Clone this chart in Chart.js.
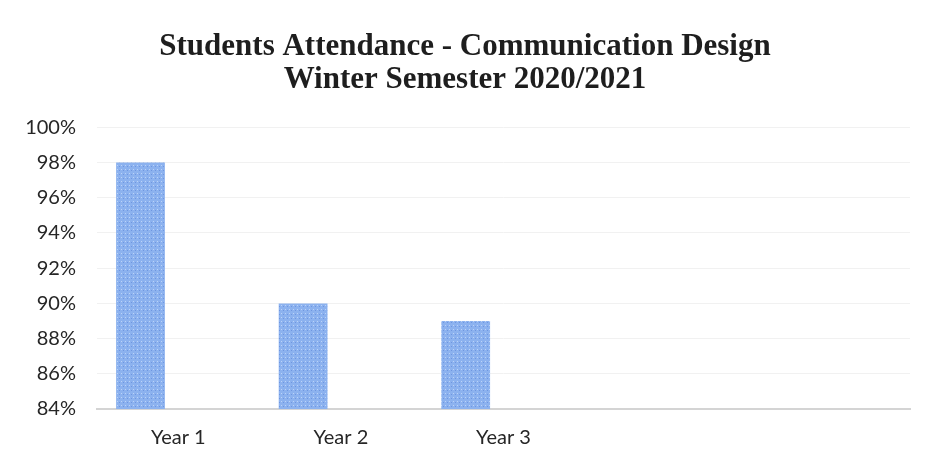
<!DOCTYPE html>
<html>
<head>
<meta charset="utf-8">
<script src="https://cdn.jsdelivr.net/npm/chart.js@4"></script>
<style>
  html, body { margin: 0; padding: 0; background: #fff; }
  #wrap { width: 928px; height: 459px; }
</style>
</head>
<body>
<div id="wrap"><canvas id="graph" width="928" height="459"></canvas></div>
<script>
const categories = ["Year 1", "Year 2", "Year 3", "", ""]
const attendance = [0.98, 0.90, 0.89, null, null]
const emptySeries = [null, null, null, null, null]
const titleLines = ["Students Attendance - Communication Design", "Winter Semester 2020/2021"]
const yMin = 0.84, yMax = 1.0, yStep = 0.02

const canv = /**@type {HTMLCanvasElement}*/(document.getElementById("graph"))
const ctx = canv.getContext("2d")

// speckled fill like the scanned bars
function barPattern() {
    const p = document.createElement("canvas")
    p.width = 4; p.height = 4
    const c = p.getContext("2d")
    c.fillStyle = "#8cb2ef"
    c.fillRect(0, 0, 4, 4)
    c.fillStyle = "#bcd3f7"
    c.fillRect(1, 1, 1, 1)
    c.fillStyle = "#6f96e0"
    c.fillRect(3, 2, 1, 1)
    return ctx.createPattern(p, "repeat")
}

new Chart(ctx, {
    type: 'bar',
    data: {
        labels: categories,
        datasets: [{
            label: 'Attendance',
            data: attendance,
            backgroundColor: barPattern(),
            categoryPercentage: 0.93,
            barPercentage: 0.645
        }, {
            label: '',
            data: emptySeries,
            categoryPercentage: 0.93,
            barPercentage: 0.645
        }]
    },
    options: {
        responsive: false,
        animation: false,
        layout: { padding: { left: 20, right: 18, top: 0, bottom: 0 } },
        plugins: {
            legend: { display: false },
            tooltip: { enabled: false },
            title: {
                display: true,
                text: titleLines,
                color: '#1e1e1e',
                font: { family: 'Liberation Serif', size: 31, weight: 'bold', lineHeight: 1.07 },
                padding: { top: 30, bottom: 31 }
            }
        },
        scales: {
            x: {
                afterFit: s => { s.height = 50 },
                grid: { display: false, drawTicks: false },
                border: { color: '#d4d4d4', width: 2 },
                ticks: {
                    color: '#262626',
                    padding: 17,
                    font: { family: 'Lato', size: 20 }
                }
            },
            y: {
                min: yMin,
                max: yMax,
                afterFit: s => { s.width = 77 },
                border: { display: false },
                grid: { color: '#f1f1f1', drawTicks: false },
                ticks: {
                    stepSize: yStep,
                    color: '#262626',
                    padding: 21,
                    font: { family: 'Lato', size: 20 },
                    callback: v => Math.round(v * 100) + '%'
                }
            }
        }
    }
})
</script>
</body>
</html>
